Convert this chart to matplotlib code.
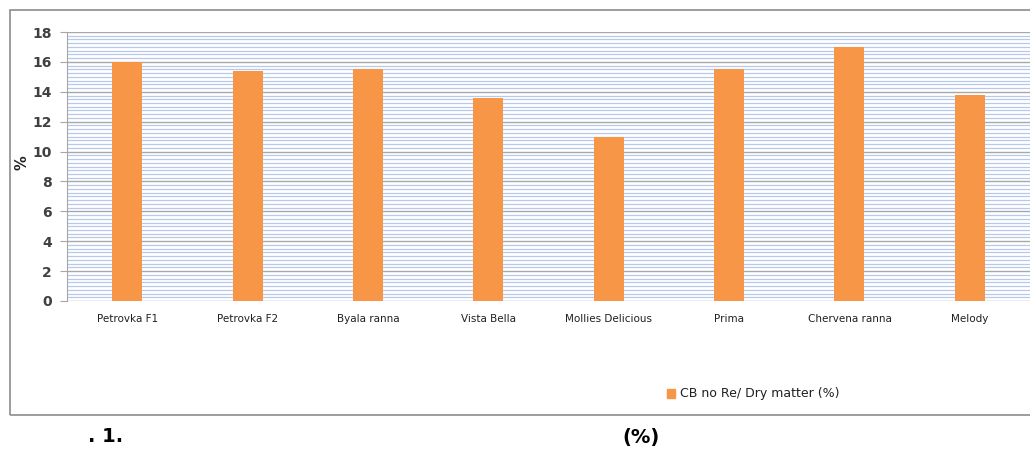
import numpy as np
import matplotlib
matplotlib.use("Agg")
import matplotlib.pyplot as plt
from matplotlib.patches import Rectangle

varieties = ["Petrovka F1", "Petrovka F2", "Byala ranna", "Vista Bella",
             "Mollies Delicious", "Prima", "Chervena ranna", "Melody"]
dry_matter = [16.0, 15.4, 15.5, 13.6, 11.0, 15.5, 17.0, 13.8]
series_name = "CB no Re/ Dry matter (%)"
y_ticks = [0, 2, 4, 6, 8, 10, 12, 14, 16, 18]

orange = "#F79646"

fig = plt.figure(figsize=(10.3, 4.49), dpi=100)

# outer chart frame
fig.patches.append(Rectangle((10 / 1030, 1 - 415 / 449), 1.2, (415 - 10) / 449,
                             transform=fig.transFigure, fill=False,
                             edgecolor="#8c8c8c", linewidth=1.2))

ax = fig.add_axes([67 / 1030, 1 - 301 / 449, (1030 - 67) / 1030, (301 - 32) / 449])
x = np.arange(len(varieties))
ax.bar(x, dry_matter, width=0.25, color=orange, zorder=3)

ax.set_xlim(-0.5, len(varieties) - 0.5)
ax.set_ylim(0, 18)
ax.set_yticks(y_ticks)
ax.set_yticklabels([str(t) for t in y_ticks], fontweight="bold")
ax.set_yticks(np.arange(0, 18.01, 0.25), minor=True)
ax.grid(axis="y", which="minor", color="#b7c8ea", linewidth=0.9, zorder=0)
ax.grid(axis="y", which="major", color="#a8a8a8", linewidth=1.0, zorder=1)
ax.tick_params(axis="y", which="minor", length=0)
ax.tick_params(axis="y", which="major", length=5, color="#a6a6a6",
               labelsize=10, labelcolor="#404040", pad=6)
ax.tick_params(axis="x", length=0, pad=9)
ax.set_xticks(x)
ax.set_xticklabels(varieties, fontsize=7.5, color="#202020")

for side in ["top", "right", "bottom"]:
    ax.spines[side].set_visible(False)
ax.spines["left"].set_color("#a6a6a6")

fig.text(22 / 1030, 1 - 163 / 449, "%", fontsize=10.5, fontweight="bold",
         color="#202020", rotation=90, ha="center", va="center")

# legend entry below the plot
fig.patches.append(Rectangle((667 / 1030, 1 - 398 / 449), 8 / 1030, 9 / 449,
                             transform=fig.transFigure, color=orange))
fig.text(680 / 1030, 1 - 394 / 449, series_name, fontsize=9,
         color="#202020", va="center")

# figure caption
fig.text(88 / 1030, 1 - 437 / 449, ". 1.", fontsize=14, fontweight="bold", va="center")
fig.text(622 / 1030, 1 - 437 / 449, "(%)", fontsize=14, fontweight="bold", va="center")

fig.savefig("out.png", dpi=100)
